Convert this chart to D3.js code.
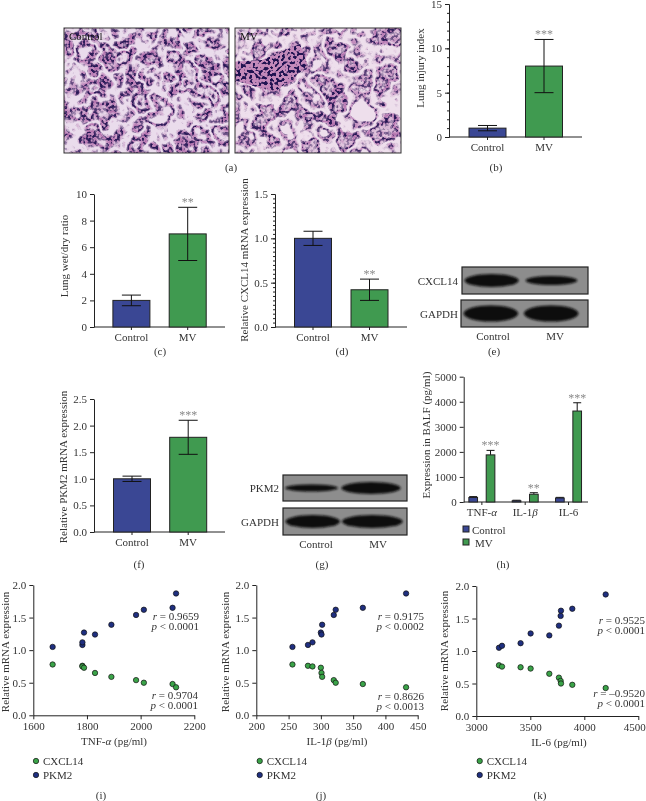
<!DOCTYPE html>
<html><head><meta charset="utf-8">
<style>html,body{margin:0;background:#fff}svg{display:block;filter:blur(0.35px)}text{font-family:"Liberation Serif",serif;fill:#333;font-size:11px}</style>
<script src="https://cdn.jsdelivr.net/npm/d3@7/dist/d3.min.js"></script></head><body>
<svg id="c" width="646" height="801" viewBox="0 0 646 801"></svg>
<script>
// ---------- data ----------
const groups = ["Control", "MV"];
const injuryValues = [1, 8];
const injuryLow = [0.7, 5];
const injuryHigh = [1.3, 11];
const wetDryValues = [2, 7];
const wetDryLow = [1.6, 5];
const wetDryHigh = [2.4, 9];
const cxclValues = [1, 0.42];
const cxclLow = [0.92, 0.3];
const cxclHigh = [1.08, 0.54];
const pkmValues = [1, 1.78];
const pkmLow = [0.95, 1.46];
const pkmHigh = [1.05, 2.1];
const cytokines = ["TNF-α", "IL-1β", "IL-6"];
const baflControl = [180, 50, 160];
const baflControlHigh = [215, 70, 185];
const baflMV = [1880, 310, 3630];
const baflMVHigh = [2060, 370, 3960];
const baflStars = ["***", "**", "***"];
const tnfValues = [1672, 1783, 1783, 1789, 1830, 1891, 1983, 2012, 2119, 2132];
const il1Values = [256, 280, 287, 300, 301, 302, 320, 323, 365, 432];
const il6Values = [3210, 3238, 3410, 3503, 3676, 3765, 3781, 3784, 3889, 4198];
const cxcl14Expr = [0.78, 0.76, 0.75, 0.73, 0.65, 0.59, 0.54, 0.50, 0.48, 0.43];
const pkm2Expr = [1.05, 1.08, 1.12, 1.27, 1.24, 1.39, 1.54, 1.62, 1.65, 1.87];

// ---------- styles ----------
const BLUE = "#3a4794", GREEN = "#409a50", DOTBLUE = "#1f2f80", DOTGREEN = "#3aa348", INK = "#222";
const svg = d3.select("#c");

// filters
const defs = svg.append("defs");
function tissueFilter(id, seedA, seedB, freq, table) {
  const f = defs.append("filter").attr("id", id).attr("x", 0).attr("y", 0).attr("width", 1).attr("height", 1)
    .attr("color-interpolation-filters", "sRGB");
  f.append("feTurbulence").attr("type", "fractalNoise").attr("baseFrequency", freq).attr("numOctaves", 3).attr("seed", seedA).attr("result", "n1");
  f.append("feColorMatrix").attr("in", "n1").attr("type", "matrix")
    .attr("values", "0 0 0 0 .70  0 0 0 0 .44  0 0 0 0 .68  1 0 0 0 0").attr("result", "a1");
  f.append("feComponentTransfer").attr("in", "a1").attr("result", "walls")
    .append("feFuncA").attr("type", "table").attr("tableValues", table);
  f.append("feTurbulence").attr("type", "fractalNoise").attr("baseFrequency", 0.34).attr("numOctaves", 1).attr("seed", seedB).attr("result", "n2");
  f.append("feColorMatrix").attr("in", "n2").attr("type", "matrix")
    .attr("values", "0 0 0 0 .13  0 0 0 0 .08  0 0 0 0 .32  12 0 0 0 -5.7").attr("result", "dots");
  f.append("feComposite").attr("in", "dots").attr("in2", "walls").attr("operator", "in").attr("result", "nuclei");
  const m = f.append("feMerge");
  m.append("feMergeNode").attr("in", "SourceGraphic");
  m.append("feMergeNode").attr("in", "walls");
  m.append("feMergeNode").attr("in", "nuclei");
}
tissueFilter("tA", 7, 3, 0.04, "0 0 0 0 0 0 0 .5 1 .5 0 0 .5 1 .5 0 .2 .8 .8 .2 0 0");
tissueFilter("tB", 21, 9, 0.04, "0 0 0 0 0 0 0 .5 .8 .2 0 0 .5 1 .4 .2 .6 .6 .6 .6 .6 .6");
const df = defs.append("filter").attr("id", "dense").attr("x", 0).attr("y", 0).attr("width", 1).attr("height", 1)
  .attr("color-interpolation-filters", "sRGB");
df.append("feTurbulence").attr("type", "fractalNoise").attr("baseFrequency", 0.34).attr("numOctaves", 1).attr("seed", 5).attr("result", "n");
df.append("feColorMatrix").attr("in", "n").attr("type", "matrix")
  .attr("values", "0 0 0 0 .13  0 0 0 0 .08  0 0 0 0 .32  12 0 0 0 -6.0").attr("result", "d");
df.append("feComposite").attr("in", "d").attr("in2", "SourceAlpha").attr("operator", "in").attr("result", "nc");
const dm = df.append("feMerge");
dm.append("feMergeNode").attr("in", "SourceGraphic");
dm.append("feMergeNode").attr("in", "nc");
defs.append("filter").attr("id", "blur").attr("x", "-20%").attr("y", "-60%").attr("width", "140%").attr("height", "220%")
  .append("feGaussianBlur").attr("stdDeviation", 1.2);

// ---------- helpers ----------
function styleAxis(g) {
  g.selectAll("path,line").attr("stroke", INK).attr("stroke-width", 1);
  g.selectAll("text").style("font-size", "11px").attr("fill", "#333");
}
function yAxis(x0, y0, y1, max, ticks, fmt, minor) {
  const y = d3.scaleLinear().domain([0, max]).range([y0, y1]);
  if (minor) {
    svg.append("g").attr("transform", `translate(${x0},0)`)
      .call(d3.axisLeft(y).tickValues(minor).tickSize(2).tickFormat("").tickSizeOuter(0)).call(styleAxis);
  }
  svg.append("g").attr("transform", `translate(${x0},0)`)
    .call(d3.axisLeft(y).tickValues(ticks).tickFormat(fmt).tickSize(4).tickPadding(3).tickSizeOuter(0)).call(styleAxis);
  return y;
}
function label(x, y, t, anchor) {
  return svg.append("text").attr("x", x).attr("y", y).attr("text-anchor", anchor || "middle").text(t);
}
function vLabel(x, y, t) {
  return svg.append("text").attr("transform", `translate(${x},${y}) rotate(-90)`).attr("text-anchor", "middle").text(t);
}
function stars(x, y, t) {
  return svg.append("text").attr("x", x).attr("y", y).attr("text-anchor", "middle")
    .style("fill", "#8a8a8a").style("font-size", "12px").text(t);
}
function barPanel(o) {
  const y = yAxis(o.x0, o.y0, o.y1, o.max, o.ticks, o.fmt, o.minor);
  const step = o.c1 - o.c0;
  const pad = 1 - o.bw / step;
  const x = d3.scaleBand().domain(groups).range([o.c0 - step / 2, o.c1 + step / 2]).paddingInner(pad).paddingOuter(pad / 2);
  const xg = svg.append("g").attr("transform", `translate(0,${o.y0})`)
    .call(d3.axisBottom(x).tickSize(3).tickPadding(3).tickSizeOuter(0)).call(styleAxis);
  xg.select(".domain").remove();
  svg.append("line").attr("x1", o.x0).attr("x2", o.x1).attr("y1", o.y0).attr("y2", o.y0).attr("stroke", INK);
  svg.selectAll(null).data(groups).join("rect")
    .attr("x", d => x(d)).attr("width", x.bandwidth())
    .attr("y", (d, i) => y(o.values[i])).attr("height", (d, i) => o.y0 - y(o.values[i]))
    .attr("fill", (d, i) => i ? GREEN : BLUE).attr("stroke", "#222").attr("stroke-width", 1);
  const cx = d => x(d) + x.bandwidth() / 2;
  groups.forEach((d, i) => {
    const c = cx(d);
    svg.append("line").attr("x1", c).attr("x2", c).attr("y1", y(o.low[i])).attr("y2", y(o.high[i])).attr("stroke", "#111");
    [o.low[i], o.high[i]].forEach(v => svg.append("line").attr("x1", c - 9.5).attr("x2", c + 9.5)
      .attr("y1", y(v)).attr("y2", y(v)).attr("stroke", "#111"));
  });
  stars(cx("MV"), y(o.high[1]) - 1, o.star);
  vLabel(o.lx, o.ly, o.title);
}
function blot(x, y, w, h, bands, name, nameX) {
  const bx = d3.scaleLinear().domain([0, 1]).range([x, x + w]);
  svg.append("rect").attr("x", x).attr("y", y).attr("width", w).attr("height", h)
    .attr("fill", "#8d8d8d").attr("stroke", "#222").attr("stroke-width", 1.2);
  const g = svg.append("g").attr("filter", "url(#blur)");
  bands.forEach(b => g.append("ellipse").attr("cx", bx(b[0])).attr("cy", y + h / 2 + (b[3] || 0))
    .attr("rx", bx(b[1]) - x).attr("ry", b[2]).attr("fill", "#0e0e0e"));
  label(nameX, y + h / 2 + 4, name, "end");
}
function scatter(o) {
  const y = yAxis(o.x0, o.y0, o.y1, 2, [0, 0.5, 1, 1.5, 2], d3.format(".1f"));
  const x = d3.scaleLinear().domain(o.dom).range([o.x0, o.x1]);
  const xg = svg.append("g").attr("transform", `translate(0,${o.y0})`)
    .call(d3.axisBottom(x).tickValues(o.ticks).tickFormat(d3.format("d")).tickSize(4).tickPadding(3).tickSizeOuter(0)).call(styleAxis);
  if (o.lastEnd) xg.selectAll(".tick:last-of-type text").attr("text-anchor", "end").attr("dx", o.lastEnd);
  [[pkm2Expr, DOTBLUE], [cxcl14Expr, DOTGREEN]].forEach(([s, col]) => {
    svg.selectAll(null).data(o.xs).join("circle")
      .attr("cx", d => x(d)).attr("cy", (d, i) => y(s[i])).attr("r", 2.7)
      .attr("fill", col).attr("stroke", "#111").attr("stroke-width", 0.7);
  });
  vLabel(o.lx, o.ly, "Relative mRNA expression");
  const xl = svg.append("text").attr("x", (o.xlc)).attr("y", o.y0 + 30).attr("text-anchor", "middle");
  xl.append("tspan").text(o.xl[0]);
  xl.append("tspan").style("font-style", "italic").text(o.xl[1]);
  xl.append("tspan").text(" (pg/ml)");
  o.notes.forEach(n => {
    const t = svg.append("text").attr("x", n[0]).attr("y", n[1]).attr("text-anchor", "end");
    t.append("tspan").style("font-style", "italic").text(n[2]);
    t.append("tspan").text(n[3]);
  });
  [["CXCL14", DOTGREEN], ["PKM2", DOTBLUE]].forEach((l, i) => {
    const yy = 761 + i * 14;
    svg.append("circle").attr("cx", o.legX).attr("cy", yy).attr("r", 2.7).attr("fill", l[1]).attr("stroke", "#111").attr("stroke-width", 0.7);
    label(o.legX + 7, yy + 4, l[0], "start");
  });
}

// ---------- (a) micrographs ----------
[[64, 165, "tA", "Control", "#eadcec"], [235, 166, "tB", "MV", "#eedfec"]].forEach(p => {
  svg.append("rect").attr("x", p[0]).attr("y", 28).attr("width", p[1]).attr("height", 125)
    .attr("fill", p[4]).attr("filter", `url(#${p[2]})`);
  if (p[3] === "MV") {
    const clip = defs.append("clipPath").attr("id", "mvClip");
    clip.append("rect").attr("x", p[0]).attr("y", 28).attr("width", p[1]).attr("height", 125);
    svg.append("g").attr("clip-path", "url(#mvClip)").append("path")
      .attr("d", "M233 62 L262 60 L300 44 L308 66 L275 92 L233 80 Z")
      .attr("fill", "#c48abb").attr("filter", "url(#dense)");
  }
  svg.append("rect").attr("x", p[0]).attr("y", 28).attr("width", p[1]).attr("height", 125)
    .attr("fill", "none").attr("stroke", "#333").attr("stroke-width", 1);
  label(p[0] + 5, 40, p[3], "start").style("fill", "#111");
});
label(231, 171, "(a)");

// ---------- (b) ----------
barPanel({ x0: 449, x1: 582, y0: 137, y1: 4, max: 15, ticks: [0, 5, 10, 15], fmt: d3.format("d"),
  minor: d3.range(0, 16), c0: 487.5, c1: 544, bw: 37, values: injuryValues, low: injuryLow, high: injuryHigh,
  star: "***", lx: 424, ly: 68, title: "Lung injury index" });
label(496, 171, "(b)");

// ---------- (c) ----------
barPanel({ x0: 94, x1: 225, y0: 327, y1: 194, max: 10, ticks: [0, 2, 4, 6, 8, 10], fmt: d3.format("d"),
  c0: 131.4, c1: 187.7, bw: 37, values: wetDryValues, low: wetDryLow, high: wetDryHigh,
  star: "**", lx: 68, ly: 256, title: "Lung wet/dry ratio" });
label(160, 355, "(c)");

// ---------- (d) ----------
barPanel({ x0: 275, x1: 407, y0: 327, y1: 194, max: 1.5, ticks: [0, 0.5, 1, 1.5], fmt: d3.format(".1f"),
  minor: d3.range(0, 31).map(i => i * 0.05), c0: 313, c1: 369.5, bw: 37, values: cxclValues, low: cxclLow, high: cxclHigh,
  star: "**", lx: 248, ly: 260, title: "Relative CXCL14 mRNA expression" });
label(342, 355, "(d)");

// ---------- (e) ----------
blot(462, 267, 126, 27, [[0.235, 0.215, 6.5], [0.71, 0.205, 4.5]], "CXCL14", 458);
blot(461, 300, 127, 27, [[0.235, 0.215, 8], [0.71, 0.215, 8]], "GAPDH", 458);
label(493, 340, "Control");
label(555, 340, "MV");
label(494, 355, "(e)");

// ---------- (f) ----------
barPanel({ x0: 94, x1: 225, y0: 532, y1: 399, max: 2.5, ticks: [0, 0.5, 1, 1.5, 2, 2.5], fmt: d3.format(".1f"),
  c0: 132, c1: 188.2, bw: 37, values: pkmValues, low: pkmLow, high: pkmHigh,
  star: "***", lx: 67, ly: 467, title: "Relative PKM2 mRNA expression" });
label(139, 568, "(f)");

// ---------- (g) ----------
blot(283, 475, 124, 26, [[0.23, 0.215, 3.5], [0.71, 0.24, 6]], "PKM2", 279);
blot(283, 508, 124, 27, [[0.24, 0.22, 6.5], [0.72, 0.245, 6.5]], "GAPDH", 279);
label(316, 548, "Control");
label(378, 548, "MV");
label(322, 568, "(g)");

// ---------- (h) ----------
(function () {
  const x0 = 463.7, y0 = 502, x1 = 588;
  const y = yAxis(x0, y0, 376.7, 5000, d3.range(0, 5001, 1000), d3.format("d"));
  const x = d3.scaleBand().domain(cytokines).range([460.2, 590.2]).paddingInner(0).paddingOuter(0);
  const inner = d3.scaleBand().domain(groups).range([0, x.bandwidth()]).paddingInner(0.5).paddingOuter(0.5).align(0.5);
  const xg = svg.append("g").attr("transform", `translate(0,${y0})`)
    .call(d3.axisBottom(x).tickSize(3).tickPadding(3).tickSizeOuter(0)).call(styleAxis);
  xg.select(".domain").remove();
  xg.selectAll("text").text("").each(function (d) {
    const t = d3.select(this);
    const m = d.match(/^(.*-\d?)(.)$/);
    if (m && d !== "IL-6") {
      t.append("tspan").text(m[1]);
      t.append("tspan").style("font-style", "italic").text(m[2]);
    } else t.text(d);
  });
  svg.append("line").attr("x1", x0).attr("x2", x1).attr("y1", y0).attr("y2", y0).attr("stroke", INK);
  cytokines.forEach((c, i) => {
    [[baflControl, baflControlHigh, "Control", BLUE], [baflMV, baflMVHigh, "MV", GREEN]].forEach(s => {
      const bx = x(c) + inner(s[2]);
      const cx = bx + inner.bandwidth() / 2;
      svg.append("line").attr("x1", cx).attr("x2", cx).attr("y1", y(s[1][i])).attr("y2", y(s[0][i])).attr("stroke", "#111");
      svg.append("line").attr("x1", cx - 4).attr("x2", cx + 4).attr("y1", y(s[1][i])).attr("y2", y(s[1][i])).attr("stroke", "#111");
      svg.append("rect").attr("x", bx).attr("width", inner.bandwidth()).attr("y", y(s[0][i])).attr("height", y0 - y(s[0][i]))
        .attr("fill", s[3]).attr("stroke", "#222");
    });
    stars(x(c) + inner("MV") + inner.bandwidth() / 2, y(baflMVHigh[i]) - 1, baflStars[i]);
  });
  vLabel(430, 435, "Expression in BALF (pg/ml)");
  [["Control", BLUE, 472, 534], ["MV", GREEN, 475, 547]].forEach(l => {
    svg.append("rect").attr("x", 463).attr("y", l[3] - 8).attr("width", 6).attr("height", 6).attr("fill", l[1]).attr("stroke", "#222");
    label(l[2], l[3], l[0], "start");
  });
  label(503, 568, "(h)");
})();

// ---------- (i)(j)(k) ----------
scatter({ x0: 33.3, x1: 194.3, y0: 715.3, y1: 585, dom: [1600, 2200], ticks: [1600, 1800, 2000, 2200], xs: tnfValues,
  lx: 9, ly: 652, xlc: 114, xl: ["TNF-", "α"], legX: 36,
  notes: [[199, 620, "r", " = 0.9659"], [199, 630, "p", " < 0.0001"], [198, 699, "r", " = 0.9704"], [198, 709, "p", " < 0.0001"]] });
label(101, 799, "(i)");
scatter({ x0: 256.3, x1: 417.7, y0: 715.3, y1: 585, dom: [200, 450], ticks: [200, 250, 300, 350, 400, 450], xs: il1Values,
  lx: 229, ly: 652, xlc: 337, xl: ["IL-1", "β"], legX: 259.7,
  notes: [[424, 620, "r", " = 0.9175"], [424, 630, "p", " < 0.0002"], [424, 700, "r", " = 0.8626"], [424, 710, "p", " < 0.0013"]] });
label(321, 799, "(j)");
scatter({ x0: 476.3, x1: 638.3, y0: 716, y1: 586, dom: [3000, 4500], ticks: [3000, 3500, 4000, 4500], xs: il6Values,
  lx: 448, ly: 651, xlc: 559, xl: ["IL-6", ""], legX: 479.7, lastEnd: 7,
  notes: [[645, 624, "r", " = 0.9525"], [645, 634, "p", " < 0.0001"], [645, 697, "r", " = –0.9520"], [645, 707, "p", " < 0.0001"]] });
label(540, 799, "(k)");
</script></body></html>
